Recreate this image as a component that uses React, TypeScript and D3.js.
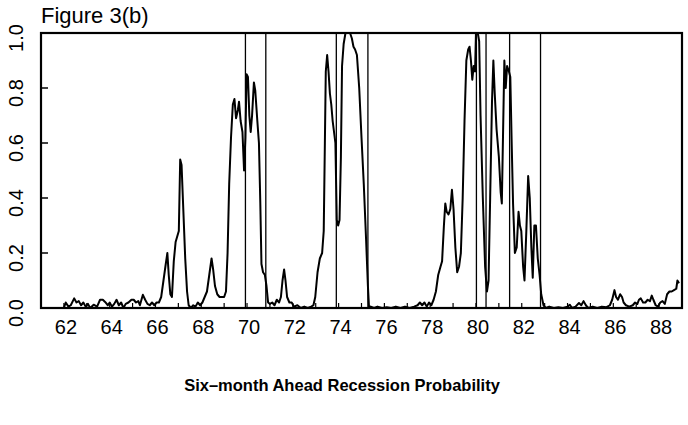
import React from 'react';
import * as d3 from 'd3';

// year (decimal) and six-month-ahead recession probability
const years = [
  62.0, 62.08, 62.2, 62.3, 62.45, 62.55, 62.65, 62.75, 62.85, 62.95,
  63.05, 63.15, 63.3, 63.45, 63.58, 63.7, 63.8, 63.92, 64.0, 64.1,
  64.2, 64.3, 64.4, 64.5, 64.6, 64.7, 64.82, 64.95, 65.05, 65.15,
  65.25, 65.32, 65.45, 65.55, 65.65, 65.75, 65.85, 65.95, 66.05, 66.15,
  66.25, 66.35, 66.45, 66.52, 66.58, 66.65, 66.72, 66.8, 66.88, 66.95,
  67.02, 67.08, 67.14, 67.22, 67.3, 67.38, 67.45, 67.55, 67.65, 67.75,
  67.85, 67.95, 68.05, 68.15, 68.25, 68.35, 68.45, 68.52, 68.6, 68.7,
  68.8, 68.9, 69.0, 69.08, 69.15, 69.22, 69.3, 69.38, 69.45, 69.52,
  69.6, 69.65, 69.72, 69.8, 69.87, 69.93, 69.98, 70.04, 70.1, 70.16,
  70.22, 70.3, 70.36, 70.45, 70.52, 70.58, 70.63, 70.7, 70.78, 70.85,
  70.92, 71.0, 71.1, 71.2, 71.3, 71.4, 71.48, 71.55, 71.62, 71.68,
  71.75, 71.85, 71.95, 72.05, 72.2, 72.35, 72.5, 72.65, 72.8, 72.9,
  72.98, 73.08, 73.18, 73.28, 73.35, 73.4, 73.44, 73.5, 73.56, 73.62,
  73.68, 73.74, 73.8, 73.86, 73.92, 73.98, 74.04, 74.1, 74.15, 74.22,
  74.3, 74.4, 74.5, 74.58, 74.65, 74.72, 74.8, 74.9, 75.0, 75.1,
  75.2, 75.28, 75.33, 75.4, 75.55, 75.7, 75.9, 76.1, 76.3, 76.5,
  76.7, 76.9, 77.1, 77.3, 77.45, 77.55, 77.65, 77.75, 77.85, 77.95,
  78.05, 78.15, 78.25, 78.35, 78.45, 78.52, 78.6, 78.66, 78.72, 78.8,
  78.88, 78.95, 79.02, 79.1, 79.18, 79.26, 79.34, 79.42, 79.5, 79.58,
  79.66, 79.72, 79.78, 79.84, 79.9, 79.96, 80.0, 80.08, 80.14, 80.2,
  80.3, 80.4, 80.48, 80.55, 80.62, 80.7, 80.76, 80.82, 80.9, 81.0,
  81.08, 81.13, 81.18, 81.24, 81.3, 81.36, 81.44, 81.5, 81.56, 81.62,
  81.7, 81.78, 81.86, 81.92, 81.98, 82.06, 82.12, 82.2, 82.28, 82.35,
  82.42, 82.48, 82.55, 82.62, 82.7, 82.78, 82.85, 82.95, 83.05, 83.2,
  83.4, 83.6, 83.8, 84.0, 84.1, 84.2, 84.35, 84.5, 84.6, 84.7,
  84.8, 84.9, 85.1, 85.3, 85.5, 85.7, 85.85, 85.95, 86.05, 86.12,
  86.2, 86.3, 86.38, 86.45, 86.55, 86.7, 86.85, 86.95, 87.05, 87.12,
  87.2, 87.3, 87.4, 87.5, 87.6, 87.68, 87.75, 87.85, 87.95, 88.05,
  88.15, 88.25, 88.35, 88.45, 88.55, 88.65, 88.75, 88.8, 88.87,
];
const probs = [
  0.0, 0.02, 0.005, 0.01, 0.035, 0.02, 0.025, 0.01, 0.02, 0.005,
  0.015, 0.0, 0.012, 0.005, 0.03, 0.03, 0.022, 0.01, 0.02, 0.005,
  0.015, 0.03, 0.01, 0.02, 0.0, 0.015, 0.02, 0.03, 0.03, 0.02,
  0.025, 0.01, 0.048, 0.03, 0.015, 0.01, 0.02, 0.01, 0.02, 0.02,
  0.04, 0.1, 0.16, 0.2, 0.12, 0.05, 0.04, 0.17, 0.24, 0.26,
  0.28, 0.54, 0.52, 0.35, 0.18, 0.06, 0.01, 0.0, 0.01, 0.005,
  0.02, 0.01, 0.02, 0.04, 0.06, 0.12, 0.18, 0.14, 0.08, 0.05,
  0.04, 0.04, 0.04, 0.06, 0.2, 0.45, 0.62, 0.74, 0.76, 0.69,
  0.72, 0.75, 0.68, 0.64, 0.5, 0.62, 0.85, 0.84, 0.7, 0.64,
  0.7, 0.82, 0.79, 0.68, 0.6, 0.38, 0.16, 0.13, 0.12, 0.08,
  0.02, 0.015, 0.02, 0.01, 0.03, 0.02, 0.04, 0.1, 0.14, 0.1,
  0.04, 0.02, 0.02, 0.005, 0.01, 0.0, 0.005, 0.0, 0.005, 0.01,
  0.04, 0.13, 0.18, 0.2, 0.28, 0.6, 0.86, 0.92, 0.86, 0.78,
  0.74, 0.68, 0.64, 0.6, 0.32, 0.3, 0.32, 0.55, 0.88, 0.96,
  1.0, 1.0, 1.0, 0.98, 0.95, 0.94, 0.92, 0.8, 0.62, 0.45,
  0.25, 0.08, 0.0, 0.005, 0.0, 0.005, 0.0, 0.003, 0.0, 0.005,
  0.0, 0.005, 0.0, 0.005, 0.01, 0.02, 0.01, 0.02, 0.005, 0.02,
  0.01, 0.03, 0.06, 0.12, 0.15, 0.17, 0.3, 0.38, 0.35, 0.34,
  0.36, 0.43, 0.36, 0.22, 0.13, 0.15, 0.2, 0.4, 0.68, 0.9,
  0.94, 0.95, 0.9, 0.83, 0.88, 0.86, 1.0, 1.0, 0.97, 0.7,
  0.4, 0.15, 0.06, 0.1, 0.4, 0.75, 0.9, 0.78, 0.65, 0.55,
  0.42, 0.38, 0.62, 0.9, 0.8, 0.88, 0.86, 0.84, 0.6, 0.38,
  0.2, 0.22, 0.35, 0.3, 0.28, 0.15, 0.1, 0.28, 0.48, 0.4,
  0.22, 0.11, 0.3, 0.3, 0.18, 0.12, 0.05, 0.01, 0.0, 0.005,
  0.0, 0.003, 0.0, 0.005, 0.012, 0.0, 0.005, 0.018, 0.01, 0.025,
  0.01, 0.0, 0.005, 0.0, 0.005, 0.003, 0.01, 0.03, 0.065, 0.04,
  0.03, 0.05, 0.04, 0.02, 0.01, 0.005, 0.01, 0.02, 0.015, 0.03,
  0.035, 0.02, 0.02, 0.03, 0.025, 0.045, 0.03, 0.01, 0.005, 0.02,
  0.025, 0.015, 0.05, 0.06, 0.06, 0.065, 0.07, 0.1, 0.09,
];

// NBER peaks and troughs drawn as vertical lines
const recessionDates = [69.93, 70.82, 73.9, 75.28, 80.02, 80.44, 81.47, 82.82];

const xTickLabels = [62, 64, 66, 68, 70, 72, 74, 76, 78, 80, 82, 84, 86, 88];
const yTickLabels = [0, 0.2, 0.4, 0.6, 0.8, 1.0];

const W = 688, H = 425;
const left = 41, right = 682, top = 33, bottom = 308;

export default function App() {
  const x = d3.scaleLinear().domain([61, 89]).range([left, right]);
  const y = d3.scaleLinear().domain([0, 1]).range([bottom, top]);

  const pts = years.map((yr, i) => [yr, probs[i]] as [number, number]);
  const line = d3.line<[number, number]>()
    .x(d => x(d[0]))
    .y(d => y(d[1]));

  const minorYears = d3.range(62, 89);
  const font = 'Liberation Sans, Arial, sans-serif';

  return (
    <svg width={W} height={H} style={{ position: 'absolute', left: 0, top: 0, background: '#fff' }}>
      <text x={left} y={23} fontFamily={font} fontSize={22} fill="#000">Figure 3(b)</text>

      {/* recession lines */}
      {recessionDates.map(d => (
        <line key={d} x1={x(d)} x2={x(d)} y1={top} y2={bottom} stroke="#000" strokeWidth={1.3} />
      ))}

      {/* series */}
      <path d={line(pts) || ''} fill="none" stroke="#000" strokeWidth={2} strokeLinejoin="round" />

      {/* frame */}
      <rect x={left} y={top} width={right - left} height={bottom - top} fill="none" stroke="#000" strokeWidth={2.2} />

      {/* y ticks */}
      {yTickLabels.map(v => (
        <g key={v}>
          <line x1={left} x2={left + 7} y1={y(v)} y2={y(v)} stroke="#000" strokeWidth={1.5} />
          <text
            transform={`translate(${23},${y(v) + 5}) rotate(-90)`}
            textAnchor="middle"
            fontFamily={font}
            fontSize={20}
            fill="#000"
          >{v.toFixed(1)}</text>
        </g>
      ))}

      {/* x minor ticks every year */}
      {minorYears.map(v => (
        <line key={v} x1={x(v)} x2={x(v)} y1={bottom} y2={bottom - 5} stroke="#000" strokeWidth={1.2} />
      ))}
      {xTickLabels.map(v => (
        <text key={v} x={x(v) + 2} y={334} textAnchor="middle" fontFamily={font} fontSize={20} fill="#000">{v}</text>
      ))}

      <text x={342} y={391} textAnchor="middle" fontFamily={font} fontSize={16.5} fontWeight="bold" fill="#000">
        Six–month Ahead Recession Probability
      </text>
    </svg>
  );
}
